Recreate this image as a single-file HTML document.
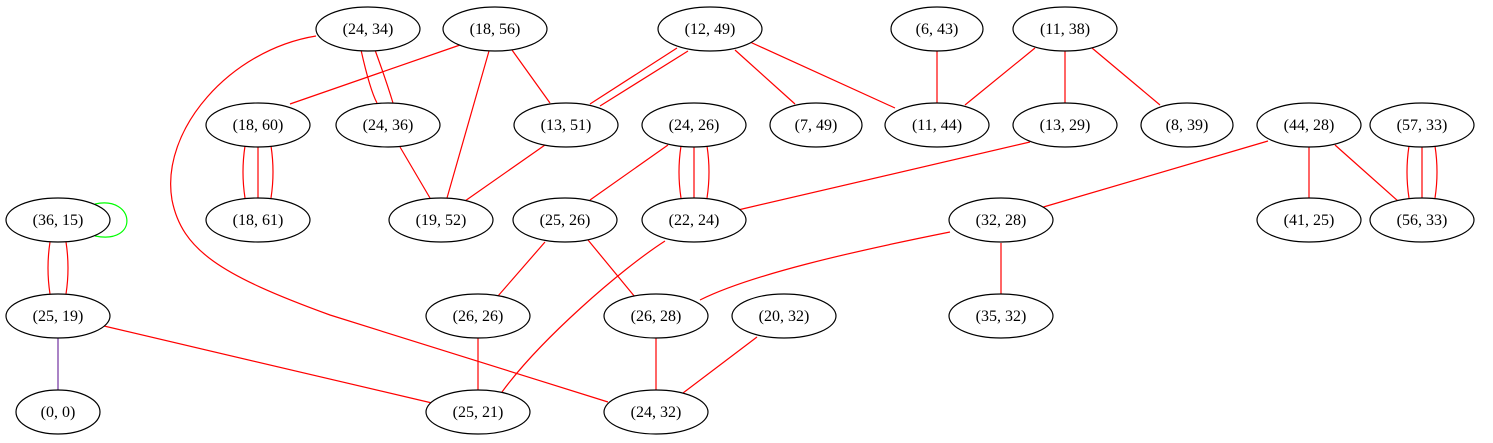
<!DOCTYPE html>
<html><head><meta charset="utf-8"><style>
html,body{margin:0;padding:0;background:#fff;}
svg{display:block;}
text{font-family:"Liberation Serif",serif;font-size:16px;}
</style></head><body>
<svg width="1493" height="443" viewBox="0 0 1493 443" xmlns="http://www.w3.org/2000/svg">
<g fill="none" stroke="red" stroke-width="1.2">
<path d="M361,50 Q370,90 377,103"/><path d="M375,50 Q386,80 393,103"/>
<path d="M316,36 C230,50 160,130 172,200 C182,250 220,275 330,315 L608,402"/>
<path d="M460,45 L290,104"/>
<path d="M489,51 L447,198"/>
<path d="M512,50 L550,103"/>
<path d="M677,48 L590,104"/><path d="M688,51 L600,106"/>
<path d="M735,50 L795,104"/>
<path d="M750,42 L895,108"/>
<path d="M937,51 L937,103"/>
<path d="M1035,48 L965,105"/>
<path d="M1065,51 L1065,103"/>
<path d="M1092,48 L1160,105"/>
<path d="M245,146 Q241,172 245,198"/><path d="M258,147 L258,198"/><path d="M271,146 Q275,172 271,198"/>
<path d="M400,147 L430,198"/>
<path d="M545,145 L465,201"/>
<path d="M668,145 L590,200"/>
<path d="M681,146 Q677,172 681,198"/><path d="M694,147 L694,198"/><path d="M707,146 Q711,172 707,198"/>
<path d="M1030,142 L738,210"/>
<path d="M1268,141 L1040,208"/>
<path d="M1309,147 L1309,198"/>
<path d="M1335,145 L1398,201"/>
<path d="M1409,146 Q1405,172 1409,198"/><path d="M1422,147 L1422,198"/><path d="M1435,146 Q1439,172 1435,198"/>
<path d="M50,242 Q46,268 50,294"/><path d="M66,242 Q70,268 66,294"/>
<path d="M104,326 L432,403"/>
<path d="M545,242 L498,296"/>
<path d="M588,240 L635,297"/>
<path d="M665,241 C620,270 540,340 502,392"/>
<path d="M950,232 C850,252 750,275 700,300"/>
<path d="M1001,243 L1001,294"/>
<path d="M478,338 L478,390"/>
<path d="M656,338 L656,390"/>
<path d="M757,337 L683,393"/>
</g>
<path d="M95,204 C135,195 140,245 95,236" fill="none" stroke="#0f0" stroke-width="1.2"/>
<path d="M58,338 L58,390" fill="none" stroke="#7030a0" stroke-width="1.2"/>
<g fill="#fff" stroke="#000" stroke-width="1.2">
<ellipse cx="368" cy="29" rx="52" ry="22"/>
<ellipse cx="495" cy="29" rx="52" ry="22"/>
<ellipse cx="710" cy="29" rx="52" ry="22"/>
<ellipse cx="937" cy="29" rx="46" ry="22"/>
<ellipse cx="1065" cy="29" rx="52" ry="22"/>
<ellipse cx="258" cy="125" rx="52" ry="22"/>
<ellipse cx="388" cy="125" rx="52" ry="22"/>
<ellipse cx="566" cy="125" rx="52" ry="22"/>
<ellipse cx="694" cy="125" rx="52" ry="22"/>
<ellipse cx="816" cy="125" rx="46" ry="22"/>
<ellipse cx="937" cy="125" rx="52" ry="22"/>
<ellipse cx="1065" cy="125" rx="52" ry="22"/>
<ellipse cx="1187" cy="125" rx="46" ry="22"/>
<ellipse cx="1309" cy="125" rx="52" ry="22"/>
<ellipse cx="1422" cy="125" rx="52" ry="22"/>
<ellipse cx="58" cy="220" rx="52" ry="22"/>
<ellipse cx="258" cy="220" rx="52" ry="22"/>
<ellipse cx="441" cy="220" rx="52" ry="22"/>
<ellipse cx="565" cy="220" rx="52" ry="22"/>
<ellipse cx="694" cy="220" rx="52" ry="22"/>
<ellipse cx="1001" cy="220" rx="52" ry="22"/>
<ellipse cx="1309" cy="220" rx="52" ry="22"/>
<ellipse cx="1422" cy="220" rx="52" ry="22"/>
<ellipse cx="58" cy="316" rx="52" ry="22"/>
<ellipse cx="478" cy="316" rx="52" ry="22"/>
<ellipse cx="656" cy="316" rx="52" ry="22"/>
<ellipse cx="784" cy="316" rx="52" ry="22"/>
<ellipse cx="1001" cy="316" rx="52" ry="22"/>
<ellipse cx="58" cy="412" rx="42" ry="22"/>
<ellipse cx="478" cy="412" rx="52" ry="22"/>
<ellipse cx="656" cy="412" rx="52" ry="22"/>
</g>
<g text-anchor="middle" fill="#000">
<text x="368" y="34">(24, 34)</text>
<text x="495" y="34">(18, 56)</text>
<text x="710" y="34">(12, 49)</text>
<text x="937" y="34">(6, 43)</text>
<text x="1065" y="34">(11, 38)</text>
<text x="258" y="130">(18, 60)</text>
<text x="388" y="130">(24, 36)</text>
<text x="566" y="130">(13, 51)</text>
<text x="694" y="130">(24, 26)</text>
<text x="816" y="130">(7, 49)</text>
<text x="937" y="130">(11, 44)</text>
<text x="1065" y="130">(13, 29)</text>
<text x="1187" y="130">(8, 39)</text>
<text x="1309" y="130">(44, 28)</text>
<text x="1422" y="130">(57, 33)</text>
<text x="58" y="225">(36, 15)</text>
<text x="258" y="225">(18, 61)</text>
<text x="441" y="225">(19, 52)</text>
<text x="565" y="225">(25, 26)</text>
<text x="694" y="225">(22, 24)</text>
<text x="1001" y="225">(32, 28)</text>
<text x="1309" y="225">(41, 25)</text>
<text x="1422" y="225">(56, 33)</text>
<text x="58" y="321">(25, 19)</text>
<text x="478" y="321">(26, 26)</text>
<text x="656" y="321">(26, 28)</text>
<text x="784" y="321">(20, 32)</text>
<text x="1001" y="321">(35, 32)</text>
<text x="58" y="417">(0, 0)</text>
<text x="478" y="417">(25, 21)</text>
<text x="656" y="417">(24, 32)</text>
</g>
</svg>
</body></html>
